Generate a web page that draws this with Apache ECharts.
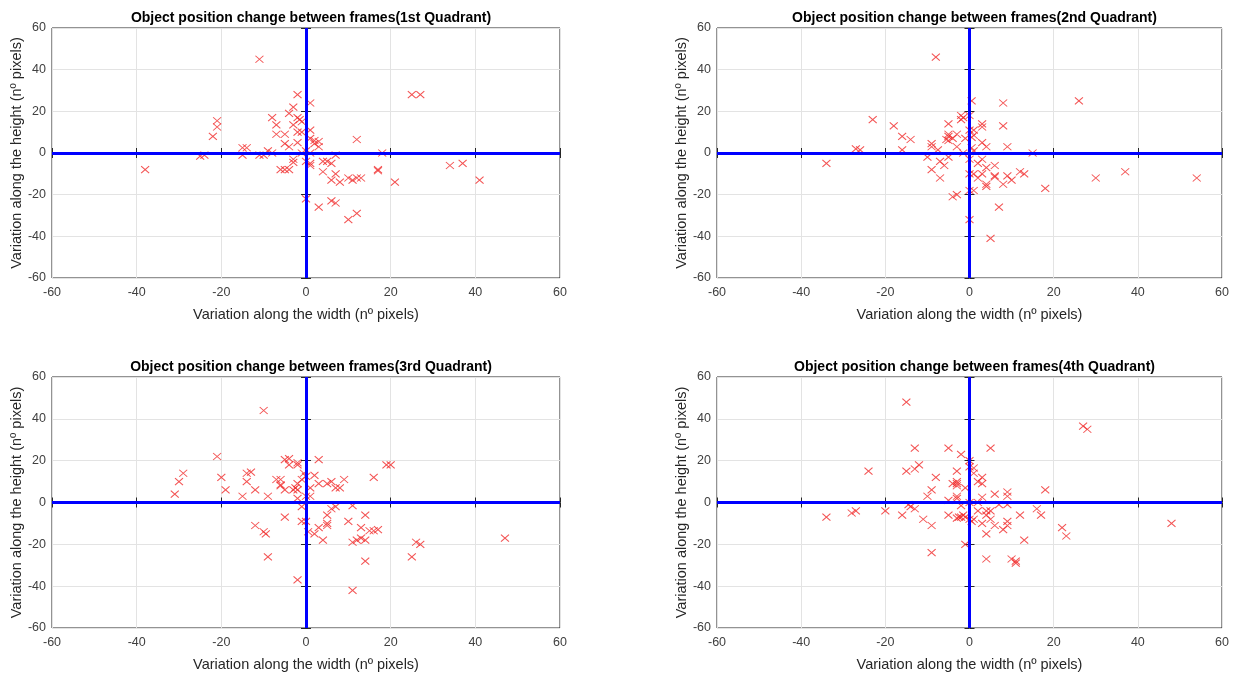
<!DOCTYPE html>
<html lang="en">
<head>
<meta charset="UTF-8">
<style>
html, body { height: 100%; margin: 0; background: #fff; }
</style>
</head>
<body>
<div id="chart" style="width:1240px;height:675px;"></div>
<script src="https://cdn.jsdelivr.net/npm/echarts@6/dist/echarts.min.js"></script>
<script>
// [width change, height change]
var q1Points = [[-38,-8],[-11,45],[-2,28],[1,24],[-3,22],[-4,19],[-8,17],[-2,17],[-1.5,16],[-1,15],[-7,13.5],[-3,13.5],[-21,15.5],[-21,12.5],[-22,8],[-7,9],[-5,9],[-2,10],[-1,10],[1,11],[1,7],[2,6],[3,5.5],[2,4.5],[3,3],[12,6.5],[-5,4.5],[-2,5],[-4,3],[-15,2.5],[-14,2.5],[-15,-1],[-9,1],[-8,0],[-11,-1],[-10,-1],[-25,-1.5],[-24,-1],[-1,0],[0,1],[1,0],[-3,-3],[-3,-4.5],[-6,-8],[-5,-8],[-4,-8],[0,-4],[1,-5],[1,-6],[4,-4],[5,-4],[6,-5],[7,-1],[4,-9],[7,-10],[6,-13],[8,-14],[10,-12],[11,-13],[12,-12],[13,-12],[17,-8],[17,-8.5],[18,0],[21,-14],[34,-6],[37,-5],[41,-13],[25,28],[27,28],[0,-22],[3,-26],[6,-23],[7,-24],[10,-32],[12,-29]];
var q2Points = [[-8,46],[-23,16],[-18,13],[-16,8],[-14,6.5],[-16,1.5],[-27,2],[-26,1.5],[-34,-5],[-9,4.5],[-9,3],[-7.5,1.5],[-10,-2],[-9,-8],[-7,-4],[-6,-6],[-7,-12],[-5,14],[-5,9],[-5,8],[-5.5,6.5],[-5,6],[-4,7],[-3,9],[-3,3],[-5,-2],[-4,-21],[-3,-20],[-2,18],[-1.5,17],[-2,16],[-1,7],[0,18],[0.5,25],[0,-32],[0,-10],[0,-18],[0,11],[-1.5,0],[8,24],[26,25],[3,14],[3,12.5],[8,13],[1,11],[1,8.5],[0.5,7.5],[3,5],[4,3],[9,3],[0.5,2.5],[1,1],[15,0],[0,-3],[3,-3],[2,-5],[4,-7],[6,-6],[1,-10],[2,-12],[3,-10],[6,-11.5],[6,-11],[4,-15],[4,-16],[8,-15],[9,-11],[10,-13],[12,-9],[13,-10],[1,-18],[18,-17],[7,-26],[5,-41],[30,-12],[37,-9],[54,-12]];
var q3Points = [[-10,44],[-21,22],[-29,14],[-30,10],[-31,4],[-20,12],[-19,6],[-15,3],[-14,14],[-13,14.5],[-14,10],[-12,6],[-9,3],[-5,20.5],[-4,21],[-4,18],[-2,19],[-2,18],[-7,11],[-6,11],[-6,8],[-5,6],[-6,8.5],[-3,6],[-2.5,7],[-2,9],[-2,6],[-1,11],[0,12.5],[-0.5,14],[-2,2],[0,3],[-1,-2],[-5,-7],[-1,-9],[0,-9],[-12,-11],[-10,-14],[-9.5,-15],[-9,-26],[-2,-37],[0.5,-14],[3,20.5],[19,18],[20,18],[16,12],[2,13],[3,9],[5,9],[6,10],[9,11],[7,7],[8,7],[1,7],[1,3],[6,-3],[7,-2],[11,-1.5],[5,-6],[5,-10],[5,-11],[3,-12],[2,-15],[4,-18],[10,-9],[14,-6],[13,-12],[15,-13.5],[16,-13.5],[17,-13],[11,-19],[12,-18],[13,-17],[14,-18],[14,-28],[11,-42],[25,-26],[26,-19],[27,-20],[47,-17]];
var q4Points = [[-15,48],[-13,26],[-5,26],[-2,23],[-24,15],[-15,15],[-13,16],[-12,18],[-8,12],[-3,15],[-9,6],[-10,3],[-4,9],[-3,9],[-3,10],[-3,8],[-1,7],[-3,3],[-3,2],[-5,1],[-2,-1.5],[0,20],[0,17],[-20,-4],[-28,-5],[-27,-4],[-34,-7],[-16,-6],[-14.5,-1],[-14,-2],[-13,-3],[-11,-8],[-9,-11],[-9,-24],[-5,-6],[-3,-7.5],[-2.5,-7],[-2,-7],[-1.5,-6],[-1,-7],[-1,-20],[0,-8],[5,26],[27,36.5],[28,35],[18,6],[1,16.5],[1,14],[3,12],[2,10],[3,9],[3,2.5],[6,4],[9,5],[9,3],[0,0],[2,0],[7,-1],[9,-1],[2,-4],[4,-4],[5,-4],[0.5,-9],[1,-8],[3,-10],[4,-6],[5,-8],[6,-11],[4,-15],[8,-13],[9,-11],[9,-9],[12,-6],[16,-3],[17,-6],[22,-12],[23,-16],[13,-18],[4,-27],[10,-27],[11,-28],[11,-29],[48,-10]];

var titles = [
    'Object position change between frames(1st Quadrant)',
    'Object position change between frames(2nd Quadrant)',
    'Object position change between frames(3rd Quadrant)',
    'Object position change between frames(4th Quadrant)'
];
var allPoints = [q1Points, q2Points, q3Points, q4Points];
var xLabel = 'Variation along the width (nº pixels)';
var yLabel = 'Variation along the height (nº pixels)';

var font = 'Liberation Sans, Arial, sans-serif';
var boxes = [
    {left: 52, top: 28, width: 508, height: 250},
    {left: 717, top: 28, width: 505, height: 250},
    {left: 52, top: 377, width: 508, height: 251},
    {left: 717, top: 377, width: 505, height: 251}
];

var grids = [], xAxes = [], yAxes = [], series = [], titleOpts = [];
for (var i = 0; i < 4; i++) {
    var b = boxes[i];
    grids.push({left: b.left, top: b.top, width: b.width, height: b.height,
        show: true, borderColor: '#262626', borderWidth: 1, backgroundColor: '#fff'});
    titleOpts.push({text: titles[i], left: b.left + b.width / 2, top: b.top - 22,
        textAlign: 'center',
        textStyle: {fontFamily: font, fontSize: 14, fontWeight: 'bold', color: '#000'}});
    var axisCommon = {
        gridIndex: i, min: -60, max: 60, interval: 20,
        axisLine: {show: false},
        axisTick: {show: true, inside: true, length: 5, lineStyle: {color: '#262626'}},
        axisLabel: {color: '#404040', fontFamily: font, fontSize: 12.5},
        splitLine: {show: true, lineStyle: {color: '#e3e3e3', width: 1}},
        nameLocation: 'middle',
        nameTextStyle: {color: '#262626', fontFamily: font, fontSize: 14.5}
    };
    xAxes.push(Object.assign({}, axisCommon, {type: 'value', name: xLabel, nameGap: 29,
        axisLabel: Object.assign({}, axisCommon.axisLabel, {margin: 8})}));
    yAxes.push(Object.assign({}, axisCommon, {type: 'value', name: yLabel, nameGap: 26,
        axisLabel: Object.assign({}, axisCommon.axisLabel, {margin: 6})}));
    // mirrored ticks on the top and right edges of the box
    xAxes.push({type: 'value', gridIndex: i, position: 'top', min: -60, max: 60, interval: 20,
        axisLine: {show: false}, axisLabel: {show: false}, splitLine: {show: false},
        axisTick: {show: true, inside: true, length: 5, lineStyle: {color: '#262626'}}});
    yAxes.push({type: 'value', gridIndex: i, position: 'right', min: -60, max: 60, interval: 20,
        axisLine: {show: false}, axisLabel: {show: false}, splitLine: {show: false},
        axisTick: {show: true, inside: true, length: 5, lineStyle: {color: '#262626'}}});
    series.push({
        type: 'scatter', xAxisIndex: 2 * i, yAxisIndex: 2 * i, z: 2,
        data: [],
        markLine: {
            silent: true, symbol: ['none', 'none'], animation: false,
            label: {show: false},
            lineStyle: {color: '#0000ff', width: 3, type: 'solid'},
            data: [{xAxis: 0}, {yAxis: 0}]
        }
    });
    series.push({
        type: 'scatter', xAxisIndex: 2 * i, yAxisIndex: 2 * i, z: 3,
        symbol: 'path://M0,0L10,10M10,0L0,10', symbolSize: [8, 7],
        itemStyle: {color: 'rgba(0,0,0,0)', borderColor: '#f02828', borderWidth: 1},
        data: allPoints[i]
    });
}

var myChart = echarts.init(document.getElementById('chart'));
myChart.setOption({
    animation: false,
    backgroundColor: '#fff',
    title: titleOpts,
    grid: grids,
    xAxis: xAxes,
    yAxis: yAxes,
    series: series
});
</script>
</body>
</html>
